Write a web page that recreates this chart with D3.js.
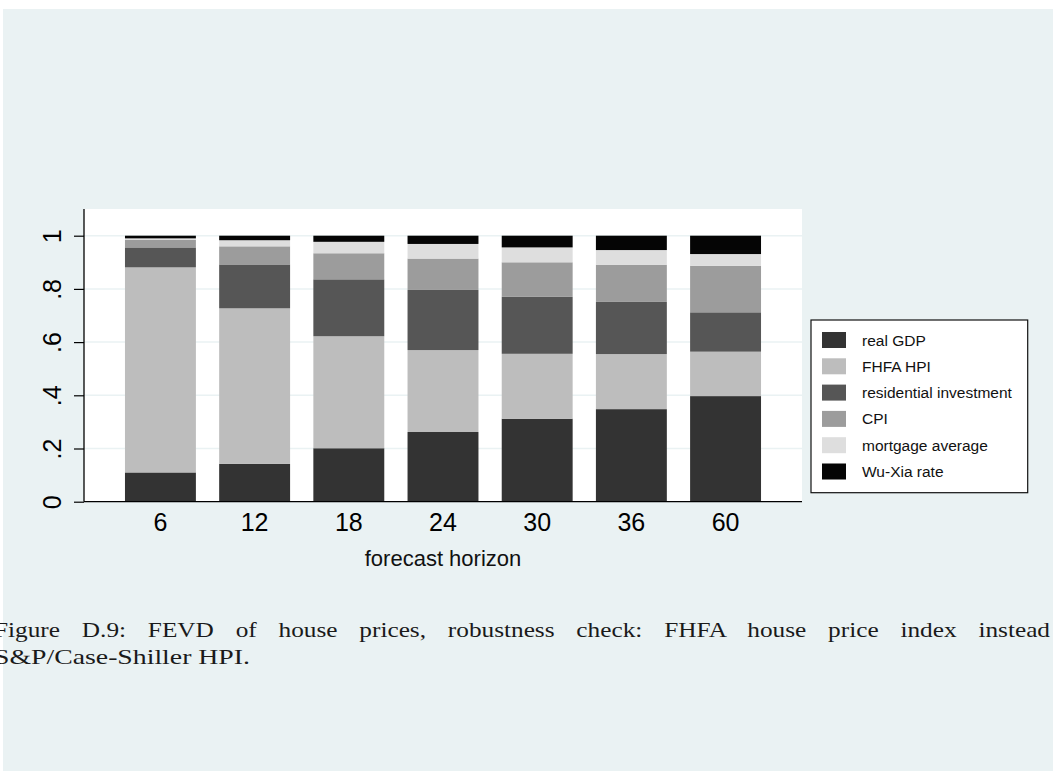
<!DOCTYPE html>
<html>
<head>
<meta charset="utf-8">
<script src="https://cdn.jsdelivr.net/npm/d3@7"></script>
<style>
body { margin: 0; background: #ffffff; }
svg { display: block; }
</style>
</head>
<body>
<div id="plot"></div>
<script>
// forecast horizons on the x axis
var horizons = ["6", "12", "18", "24", "30", "36", "60"];

// share of the variance for each shock, bottom to top of each bar
var realGDP = [0.110, 0.142, 0.201, 0.262, 0.312, 0.348, 0.397];
var fhfaHPI = [0.771, 0.585, 0.421, 0.308, 0.244, 0.207, 0.167];
var resInvestment = [0.075, 0.165, 0.214, 0.226, 0.214, 0.196, 0.148];
var cpi = [0.028, 0.068, 0.098, 0.118, 0.130, 0.140, 0.175];
var mortgage = [0.006, 0.023, 0.043, 0.055, 0.056, 0.055, 0.044];
var wuXia = [0.010, 0.017, 0.023, 0.031, 0.044, 0.054, 0.069];

var seriesKeys = ["gdp", "hpi", "res", "cpi", "mort", "wx"];
var seriesNames = ["real GDP", "FHFA HPI", "residential investment", "CPI", "mortgage average", "Wu-Xia rate"];
var seriesColours = ["#333333", "#bdbdbd", "#565656", "#9c9c9c", "#dedede", "#050505"];

var yTicks = [0, 0.2, 0.4, 0.6, 0.8, 1];
var yTickLabels = ["0", ".2", ".4", ".6", ".8", "1"];

var xTitle = "forecast horizon";
var captionLines = ["Figure D.9: FEVD of house prices, robustness check: FHFA house price index instead",
	"S&P/Case-Shiller HPI."];

onload = function init() {
	var dataset = horizons.map(function (h, i) {
		return { horizon: h, gdp: realGDP[i], hpi: fhfaHPI[i], res: resInvestment[i], cpi: cpi[i], mort: mortgage[i], wx: wuXia[i] };
	});
	drawChart(dataset);
}

function drawChart(dataset) {

	var width = 1053, height = 771;
	var plot = { left: 84, right: 802, top: 209, bottom: 501.7 }; //plot region

	var svg = d3.select("#plot")
		.append("svg")
		.attr("width", width)
		.attr("height", height);

	//graph background
	svg.append("rect")
		.attr("x", 3).attr("y", 9)
		.attr("width", width - 3).attr("height", height - 9)
		.attr("fill", "#eaf2f3");

	svg.append("rect")
		.attr("x", plot.left).attr("y", plot.top)
		.attr("width", plot.right - plot.left).attr("height", plot.bottom - plot.top)
		.attr("fill", "#ffffff");

	var stack = d3.stack().keys(seriesKeys);
	var series = stack(dataset);

	//set up scales
	var xScale = d3.scaleBand()
		.domain(horizons)
		.range([plot.left, plot.right])
		.paddingInner(0.247)
		.paddingOuter(0.435);

	var yScale = d3.scaleLinear()
		.domain([0, 1])
		.range([plot.bottom, 235.7]);

	var colours = d3.scaleOrdinal()
		.domain(seriesKeys)
		.range(seriesColours);

	//grid lines
	svg.append("g")
		.selectAll("line")
		.data(yTicks.slice(1))
		.enter().append("line")
		.attr("x1", plot.left).attr("x2", plot.right)
		.attr("y1", function (d) { return yScale(d); })
		.attr("y2", function (d) { return yScale(d); })
		.attr("stroke", "#eaf2f3")
		.attr("stroke-width", 1.5);

	//draw bars
	svg.append("g")
		.selectAll("g")
		.data(series)
		.enter().append("g")
		.attr("fill", function (d) { return colours(d.key); })
		.selectAll("rect")
		.data(function (d) { return d; })
		.enter().append("rect")
		.attr("x", function (d) { return xScale(d.data.horizon); })
		.attr("y", function (d) { return yScale(d[1]); })
		.attr("height", function (d) { return yScale(d[0]) - yScale(d[1]); })
		.attr("width", xScale.bandwidth());

	//y axis with rotated labels
	var yAxis = svg.append("g")
		.attr("transform", "translate(" + plot.left + ",0)")
		.call(d3.axisLeft(yScale)
			.tickValues(yTicks)
			.tickFormat(function (d, i) { return yTickLabels[i]; })
			.tickSize(10)
			.tickSizeOuter(0));
	yAxis.select(".domain").remove();
	yAxis.selectAll("line").attr("stroke", "#000").attr("stroke-width", 1.2);
	yAxis.selectAll("text")
		.attr("x", 0).attr("dy", 0)
		.attr("text-anchor", "middle")
		.attr("transform", "translate(-23,0) rotate(-90)")
		.style("font-family", "'Liberation Sans', Arial, sans-serif")
		.style("font-size", "25px")
		.attr("fill", "#000");

	svg.append("line")
		.attr("x1", plot.left).attr("x2", plot.left)
		.attr("y1", plot.top).attr("y2", plot.bottom)
		.attr("stroke", "#000").attr("stroke-width", 1.3);

	//x axis
	var xAxis = svg.append("g")
		.attr("transform", "translate(0," + plot.bottom + ")")
		.call(d3.axisBottom(xScale).tickSize(0).tickPadding(12));
	xAxis.select(".domain").remove();
	xAxis.selectAll("text")
		.style("font-family", "'Liberation Sans', Arial, sans-serif")
		.style("font-size", "25px")
		.attr("fill", "#000");

	svg.append("line")
		.attr("x1", plot.left).attr("x2", plot.right)
		.attr("y1", plot.bottom).attr("y2", plot.bottom)
		.attr("stroke", "#000").attr("stroke-width", 1.3);

	svg.append("text")
		.attr("x", (plot.left + plot.right) / 2)
		.attr("y", 566)
		.attr("text-anchor", "middle")
		.style("font-family", "'Liberation Sans', Arial, sans-serif")
		.style("font-size", "22px")
		.attr("fill", "#111")
		.text(xTitle);

	//legend
	var legend = svg.append("g")
		.attr("transform", "translate(811,320)");

	legend.append("rect")
		.attr("width", 216.7).attr("height", 172.7)
		.attr("fill", "#ffffff")
		.attr("stroke", "#111").attr("stroke-width", 1.2);

	var rows = legend.selectAll("g.row")
		.data(seriesKeys)
		.enter().append("g")
		.attr("class", "row")
		.attr("transform", function (d, i) { return "translate(0," + (12 + i * 26.3) + ")"; });

	rows.append("rect")
		.attr("x", 11).attr("width", 24).attr("height", 16)
		.attr("fill", function (d) { return colours(d); });

	rows.append("text")
		.attr("x", 51).attr("y", 13.5)
		.style("font-family", "'Liberation Sans', Arial, sans-serif")
		.style("font-size", "15.5px")
		.attr("fill", "#111")
		.text(function (d, i) { return seriesNames[i]; });

	//caption: serif text, stretched a little to look like the LaTeX page
	var stretch = 1.15;
	var caption = svg.append("g")
		.attr("transform", "translate(-6,0) scale(" + stretch + ",1)")
		.style("font-family", "'Liberation Serif', 'Times New Roman', serif")
		.style("font-size", "22px")
		.attr("fill", "#1a1a1a");

	var cap1 = caption.append("text")
		.attr("x", 0).attr("y", 637)
		.text(captionLines[0]);
	//first line is justified out to the page edge
	var natural = cap1.node().getComputedTextLength();
	var gaps = captionLines[0].split(" ").length - 1;
	cap1.style("word-spacing", ((1056 / stretch - natural) / gaps) + "px");

	caption.append("text")
		.attr("x", 0).attr("y", 664)
		.attr("textLength", 256 / stretch)
		.attr("lengthAdjust", "spacingAndGlyphs")
		.text(captionLines[1]);
}
</script>
</body>
</html>
